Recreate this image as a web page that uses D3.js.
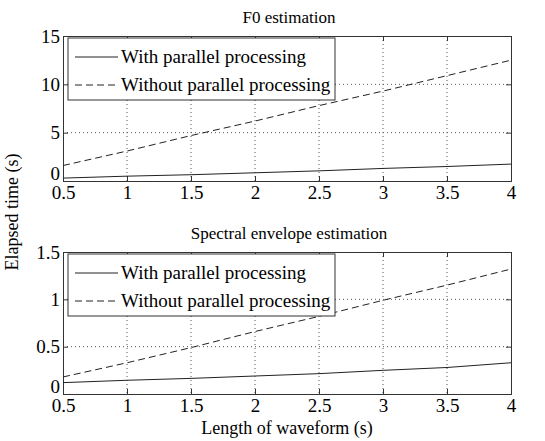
<!DOCTYPE html>
<html>
<head>
<meta charset="utf-8">
<script src="https://cdn.jsdelivr.net/npm/d3@7"></script>
<style>
  body { margin: 0; background: #fff; }
</style>
</head>
<body>
<div id="container"></div>
<script>
// waveform lengths (s)
const lengths = [0.5, 1, 1.5, 2, 2.5, 3, 3.5, 4];

// F0 estimation elapsed time (s)
const f0With = [0.3, 0.5, 0.65, 0.85, 1.05, 1.3, 1.5, 1.75];
const f0Without = [1.6, 3.1, 4.7, 6.2, 7.8, 9.3, 10.9, 12.5];

// spectral envelope estimation elapsed time (s)
const specWith = [0.12, 0.145, 0.165, 0.19, 0.215, 0.25, 0.28, 0.33];
const specWithout = [0.18, 0.33, 0.49, 0.66, 0.82, 0.99, 1.15, 1.32];

const xTicks = [0.5, 1, 1.5, 2, 2.5, 3, 3.5, 4];
const f0Ticks = [0, 5, 10, 15];
const specTicks = [0, 0.5, 1, 1.5];
const seriesNames = ['With parallel processing', 'Without parallel processing'];

const W = 545, H = 441;
const left = 63, right = 511;
const serif = '"Liberation Serif", "Times New Roman", Times, serif';

const svg = d3.select('#container')
    .append('svg')
    .attr('width', W)
    .attr('height', H);

const x = d3.scaleLinear().domain([0.5, 4]).range([left, right]);

const drawPanel = (cfg) => {
    const y = d3.scaleLinear().domain(cfg.domain).range([cfg.bottom, cfg.top]);
    const g = svg.append('g');

    // title
    g.append('text')
        .attr('x', (left + right) / 2 + 2)
        .attr('y', cfg.top - 13)
        .attr('text-anchor', 'middle')
        .style('font-family', serif)
        .style('font-size', '17px')
        .text(cfg.title);

    // dotted grid
    g.append('g').selectAll('line')
        .data(xTicks.slice(1, -1)).enter()
        .append('line')
        .attr('x1', d => x(d)).attr('x2', d => x(d))
        .attr('y1', cfg.top).attr('y2', cfg.bottom)
        .attr('stroke', '#555').attr('stroke-width', 1)
        .attr('stroke-dasharray', '1,3');
    g.append('g').selectAll('line')
        .data(cfg.ticks.slice(1, -1)).enter()
        .append('line')
        .attr('x1', left).attr('x2', right)
        .attr('y1', d => y(d)).attr('y2', d => y(d))
        .attr('stroke', '#555').attr('stroke-width', 1)
        .attr('stroke-dasharray', '1,3');

    // axes
    const xAxis = g.append('g')
        .attr('transform', `translate(0,${cfg.bottom})`)
        .call(d3.axisBottom(x).tickValues(xTicks).tickSize(-5).tickPadding(5).tickFormat(d3.format('')));
    const xAxisTop = g.append('g')
        .attr('transform', `translate(0,${cfg.top})`)
        .call(d3.axisTop(x).tickValues(xTicks).tickSize(-5).tickFormat(''));
    const yAxis = g.append('g')
        .attr('transform', `translate(${left},0)`)
        .call(d3.axisLeft(y).tickValues(cfg.ticks).tickSize(-5).tickPadding(3).tickFormat(d3.format('')));
    const yAxisRight = g.append('g')
        .attr('transform', `translate(${right},0)`)
        .call(d3.axisRight(y).tickValues(cfg.ticks).tickSize(-5).tickFormat(''));
    [xAxis, xAxisTop, yAxis, yAxisRight].forEach(a => {
        a.attr('font-family', null).attr('font-size', null);
        a.select('.domain').attr('stroke', '#333');
        a.selectAll('.tick line').attr('stroke', '#333');
        a.selectAll('text')
            .style('font-family', serif)
            .style('font-size', '19px')
            .attr('fill', '#000');
    });
    // lowest y label sits a bit higher, like the reference
    yAxis.selectAll('.tick text').filter(d => d === 0).attr('dy', '-0.08em');

    // lines
    const line = d3.line().x((d, i) => x(lengths[i])).y(d => y(d));
    g.append('path')
        .datum(cfg.withVals)
        .attr('d', line)
        .attr('fill', 'none')
        .attr('stroke', '#222')
        .attr('stroke-width', 1);
    g.append('path')
        .datum(cfg.withoutVals)
        .attr('d', line)
        .attr('fill', 'none')
        .attr('stroke', '#222')
        .attr('stroke-width', 1)
        .attr('stroke-dasharray', '7,4');

    // legend
    const lg = g.append('g').attr('transform', `translate(68,${cfg.top + 2})`);
    lg.append('rect')
        .attr('width', 267).attr('height', 62)
        .attr('fill', '#fff').attr('stroke', '#333').attr('stroke-width', 1);
    seriesNames.forEach((name, i) => {
        const ly = 19 + i * 28;
        lg.append('line')
            .attr('x1', 7).attr('x2', 50)
            .attr('y1', ly).attr('y2', ly)
            .attr('stroke', '#222').attr('stroke-width', 1)
            .attr('stroke-dasharray', i === 0 ? null : '7,4');
        lg.append('text')
            .attr('x', 53).attr('y', ly + 6)
            .style('font-family', serif)
            .style('font-size', '19px')
            .text(name);
    });
};

drawPanel({
    title: 'F0 estimation', top: 36, bottom: 181, domain: [0, 15], ticks: f0Ticks,
    withVals: f0With, withoutVals: f0Without
});
drawPanel({
    title: 'Spectral envelope estimation', top: 252, bottom: 394, domain: [0, 1.5], ticks: specTicks,
    withVals: specWith, withoutVals: specWithout
});

// shared labels
svg.append('text')
    .attr('transform', 'translate(18,212) rotate(-90)')
    .attr('text-anchor', 'middle')
    .style('font-family', serif)
    .style('font-size', '18px')
    .text('Elapsed time (s)');
svg.append('text')
    .attr('x', (left + right) / 2)
    .attr('y', 434)
    .attr('text-anchor', 'middle')
    .style('font-family', serif)
    .style('font-size', '18px')
    .text('Length of waveform (s)');
</script>
</body>
</html>
